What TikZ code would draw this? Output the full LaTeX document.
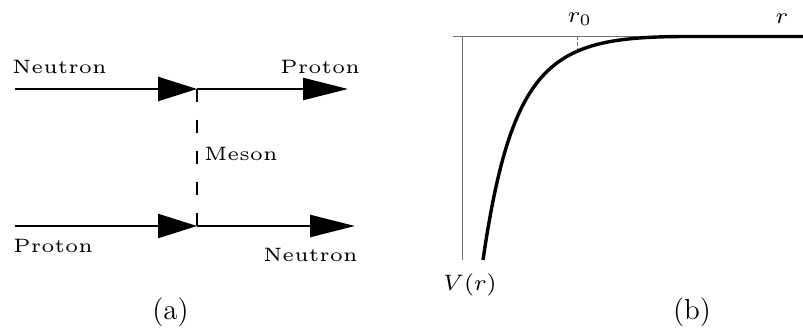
\documentclass[tikz,border=0pt]{standalone}
\usepackage{graphicx}
\usetikzlibrary{arrows.meta}
\font\lmfive="[lmroman5-regular]:mapping=tex-text" at 9.7pt
\newcommand\lbl[1]{{\lmfive #1}}
\newcommand\mlbl[1]{\scalebox{1.6}{$\scriptstyle #1$}}
\begin{document}
\begin{tikzpicture}[x=0.5pt,y=-0.5pt,
  txt/.style={inner sep=0pt,anchor=base west},
  fermA/.style={line width=1.2pt,-{Triangle[length=19.5pt,width=12pt]}},
  fermB/.style={line width=1.2pt,-{Triangle[length=22.5pt,width=11pt]}},
  meson/.style={line width=1pt,dash pattern=on 6.5pt off 9pt},
  axis/.style={line width=0.5pt,black!55},
  curve/.style={line width=1.7pt}]
\useasboundingbox (0,0) rectangle (803,336);
% ---- (a)
\coordinate (nin) at (15,89);
\coordinate (v1) at (197,89);
\coordinate (pout) at (348,89);
\coordinate (pin) at (15,226);
\coordinate (v2) at (197,226);
\coordinate (nout) at (355,226);
\draw[fermA] (nin) -- (v1);
\draw[fermB] (v1) -- (pout);
\draw[fermA] (pin) -- (v2);
\draw[fermB] (v2) -- (nout);
\draw[meson] (v1) -- (v2);
\node[txt] (t1) at (12,74) {\lbl{Neutron}};
\node[txt] (t2) at (280,74) {\lbl{Proton}};
\node[txt] (t3) at (204,161) {\lbl{Meson}};
\node[txt] (t4) at (13,253) {\lbl{Proton}};
\node[txt] (t5) at (263,262) {\lbl{Neutron}};
\node[inner sep=0pt,anchor=base] (ca) at (170.5,319.5) {\fontsize{14.5}{17}\selectfont (a)};
% ---- (b)
\coordinate (xa) at (453,36.5);
\coordinate (xb) at (803,36.5);
\coordinate (ya) at (462,36.5);
\coordinate (yb) at (462,260);
\coordinate (r0a) at (577,36.5);
\coordinate (r0b) at (577,50);
\coordinate (c0) at (483,260);
\coordinate (c1) at (690,36.5);
\draw[axis] (xa) -- (xb);
\draw[axis] (ya) -- (yb);
\draw[axis,dash pattern=on 2pt off 1pt] (r0a) -- (r0b);
\draw[curve] (c0) .. controls (513,55) and (555,36.5) .. (c1) -- (xb);
\node[inner sep=0pt] (lr0) at (580,19) {\mlbl{r_0}};
\node[inner sep=0pt] (lr) at (782,19) {\mlbl{r}};
\node[inner sep=0pt] (lv) at (470,285) {\mlbl{V(r)}};
\node[inner sep=0pt,anchor=base] (cb) at (692,319.5) {\fontsize{14.5}{17}\selectfont (b)};
\end{tikzpicture}
\end{document}
